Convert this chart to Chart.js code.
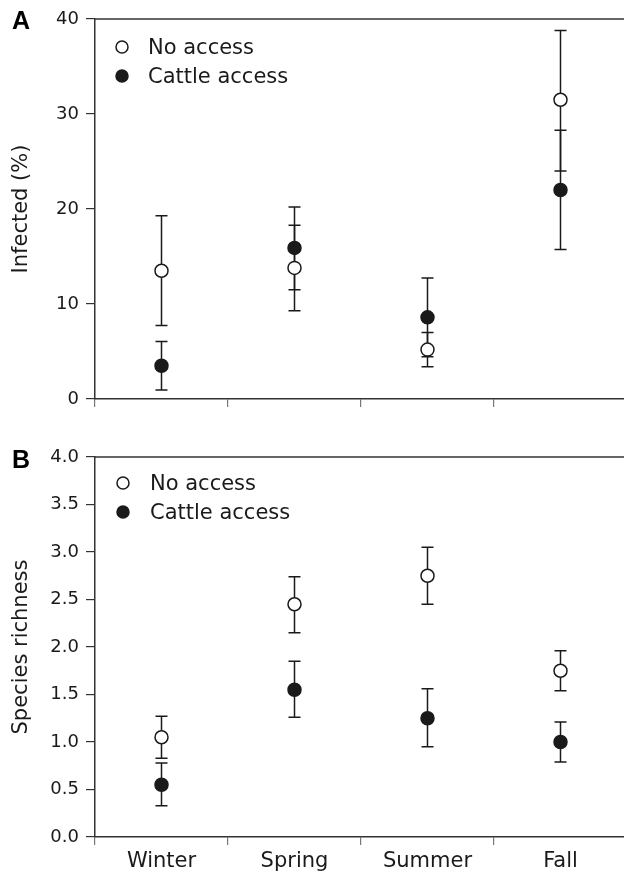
<!DOCTYPE html>
<html>
<head>
<meta charset="utf-8">
<title>Infection and species richness by season</title>
<script src="https://cdn.jsdelivr.net/npm/chart.js@4.4.1/dist/chart.umd.min.js"></script>
<style>
    html, body { margin: 0; padding: 0; background: #fff; overflow: hidden; width: 624px; height: 875px; }
    .panel { position: absolute; left: 0; }
    #wrapA { top: 0; }
    #wrapB { top: 430px; }
    canvas { display: block; }
</style>
</head>
<body>
<div class="panel" id="wrapA"><canvas id="panelA" width="627" height="430"></canvas></div>
<div class="panel" id="wrapB"><canvas id="panelB" width="627" height="445"></canvas></div>

<script>
// ============================
// Data
// ============================
const seasons = ["Winter", "Spring", "Summer", "Fall"];
const seriesNames = ["No access", "Cattle access"];

// A: Infected (%)
const infTicks = [0, 10, 20, 30, 40];
const infNoMean = [13.5, 13.8, 5.2, 31.5];
const infNoLo = [7.75, 9.3, 3.4, 24.0];
const infNoHi = [19.3, 18.3, 7.0, 38.8];
const infCattleMean = [3.5, 15.9, 8.6, 22.0];
const infCattleLo = [0.95, 11.5, 4.45, 15.75];
const infCattleHi = [6.05, 20.2, 12.75, 28.3];

// B: Species richness
const richTicks = [0, 0.5, 1, 1.5, 2, 2.5, 3, 3.5, 4];
const richNoMean = [1.05, 2.45, 2.75, 1.75];
const richNoLo = [0.83, 2.15, 2.45, 1.54];
const richNoHi = [1.27, 2.74, 3.05, 1.96];
const richCattleMean = [0.55, 1.55, 1.25, 1.0];
const richCattleLo = [0.33, 1.26, 0.95, 0.79];
const richCattleHi = [0.78, 1.85, 1.56, 1.21];

(function () {

    // ============================
    // Style
    // ============================
    const FONT = "'DejaVu Sans', 'Liberation Sans', sans-serif";
    const INK = "#1a1a1a";
    const AXIS = "#333";
    const XTICK = "#777";
    const MARK_R = 6.5;

    Chart.defaults.devicePixelRatio = 1;

    // ============================
    // Plugins
    // ============================

    // error bars: whisker + caps, drawn under the points
    const errorBars = {
        id: "errorBars",
        beforeDatasetsDraw(chart) {
            const { ctx } = chart;
            const xs = chart.scales.x, ys = chart.scales.y;
            ctx.save();
            ctx.strokeStyle = INK;
            ctx.lineWidth = 1.5;
            chart.data.datasets.forEach((ds) => {
                if (!ds.errLo || !ds.errHi) return;
                for (let i = 0; i < ds.data.length; i++) {
                    const x = xs.getPixelForValue(i);
                    const yLo = ys.getPixelForValue(ds.errLo[i]);
                    const yHi = ys.getPixelForValue(ds.errHi[i]);
                    ctx.beginPath();
                    ctx.moveTo(x, yLo); ctx.lineTo(x, yHi);
                    ctx.moveTo(x - 6, yLo); ctx.lineTo(x + 6, yLo);
                    ctx.moveTo(x - 6, yHi); ctx.lineTo(x + 6, yHi);
                    ctx.stroke();
                }
            });
            ctx.restore();
        }
    };

    // top frame line, legend inside the plot, panel letter
    const decor = {
        id: "decor",
        afterDraw(chart, args, opts) {
            const { ctx, chartArea } = chart;
            ctx.save();

            ctx.strokeStyle = AXIS;
            ctx.lineWidth = 1.5;
            ctx.beginPath();
            ctx.moveTo(chartArea.left, chartArea.top);
            ctx.lineTo(chart.width, chartArea.top);
            ctx.stroke();

            // legend
            chart.data.datasets.forEach((ds, i) => {
                const cy = opts.legendY + i * opts.legendGap;
                ctx.beginPath();
                ctx.arc(opts.legendX, cy, 6, 0, Math.PI * 2);
                ctx.fillStyle = ds.pointBackgroundColor;
                ctx.fill();
                ctx.lineWidth = 1.5;
                ctx.strokeStyle = INK;
                ctx.stroke();

                ctx.fillStyle = INK;
                ctx.font = "21px " + FONT;
                ctx.textAlign = "left";
                ctx.textBaseline = "alphabetic";
                ctx.fillText(ds.label, opts.textX, cy + 7);
            });

            // panel letter
            ctx.fillStyle = "#000";
            ctx.font = "bold 25px 'Liberation Sans', Arial, sans-serif";
            ctx.textAlign = "center";
            ctx.textBaseline = "middle";
            ctx.fillText(opts.letter, 21, opts.letterY);

            ctx.restore();
        }
    };

    // ============================
    // Chart builder
    // ============================
    function series(label, mean, lo, hi, filled) {
        return {
            label: label,
            data: mean,
            errLo: lo,
            errHi: hi,
            showLine: false,
            pointRadius: MARK_R,
            pointHoverRadius: MARK_R,
            pointBorderWidth: 1.5,
            pointBorderColor: INK,
            pointBackgroundColor: filled ? INK : "#fff",
            clip: false
        };
    }

    function makePanel(canvas, p) {
        return new Chart(canvas.getContext("2d"), {
            type: "line",
            data: {
                labels: seasons,
                datasets: p.datasets
            },
            plugins: [errorBars, decor],
            options: {
                responsive: false,
                animation: false,
                events: [],
                layout: { autoPadding: false, padding: { top: p.padTop, left: 0, right: 0, bottom: 0 } },
                plugins: {
                    legend: { display: false },
                    tooltip: { enabled: false },
                    decor: p.decor
                },
                scales: {
                    x: {
                        type: "category",
                        offset: true,
                        afterFit: (s) => { s.height = p.xHeight; },
                        border: { display: true, color: AXIS, width: 1.5 },
                        grid: { display: true, offset: true, drawOnChartArea: false, tickLength: 8, color: XTICK, lineWidth: 1.2 },
                        ticks: {
                            display: p.showX,
                            autoSkip: false,
                            maxRotation: 0,
                            padding: 4,
                            color: INK,
                            font: { family: FONT, size: 21 }
                        }
                    },
                    y: {
                        min: p.ticks[0],
                        max: p.ticks[p.ticks.length - 1],
                        afterBuildTicks: (s) => { s.ticks = p.ticks.map((v) => ({ value: v })); },
                        afterFit: (s) => { s.width = 95; },
                        border: { display: true, color: AXIS, width: 1.5 },
                        grid: { display: true, drawOnChartArea: false, tickLength: 9, color: AXIS, lineWidth: 1.2 },
                        ticks: {
                            padding: 7,
                            color: INK,
                            font: { family: FONT, size: 18 },
                            callback: p.fmt
                        },
                        title: {
                            display: true,
                            text: p.title,
                            color: INK,
                            font: { family: FONT, size: 21 },
                            padding: { top: 9, bottom: 0 }
                        }
                    }
                }
            }
        });
    }

    // ============================
    // Panels
    // ============================
    makePanel(document.getElementById("panelA"), {
        padTop: 19,
        xHeight: 31,
        showX: false,
        ticks: infTicks,
        fmt: (v) => String(v),
        title: "Infected (%)",
        datasets: [
            series(seriesNames[0], infNoMean, infNoLo, infNoHi, false),
            series(seriesNames[1], infCattleMean, infCattleLo, infCattleHi, true)
        ],
        decor: { letter: "A", letterY: 22, legendX: 122, legendY: 47, legendGap: 29, textX: 148 }
    });

    makePanel(document.getElementById("panelB"), {
        padTop: 27,
        xHeight: 38,
        showX: true,
        ticks: richTicks,
        fmt: (v) => Number(v).toFixed(1),
        title: "Species richness",
        datasets: [
            series(seriesNames[0], richNoMean, richNoLo, richNoHi, false),
            series(seriesNames[1], richCattleMean, richCattleLo, richCattleHi, true)
        ],
        decor: { letter: "B", letterY: 31, legendX: 123, legendY: 53, legendGap: 29, textX: 150 }
    });

})();
</script>
</body>
</html>
